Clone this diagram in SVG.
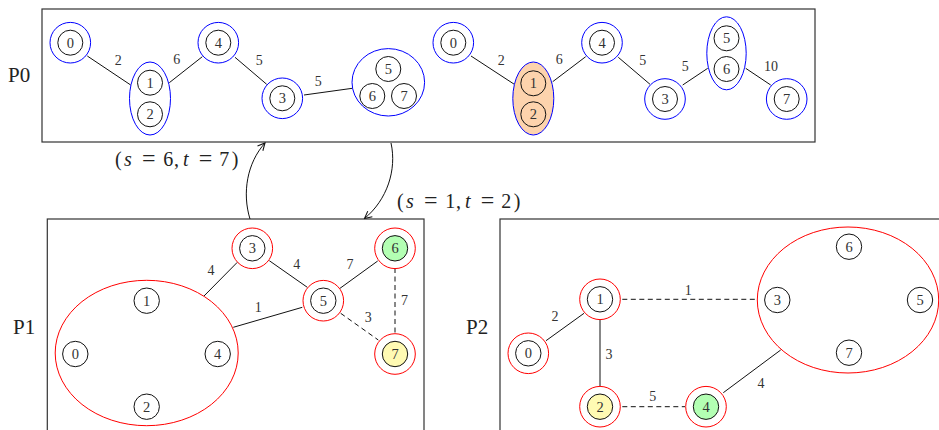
<svg xmlns="http://www.w3.org/2000/svg" width="939" height="430" viewBox="0 0 939 430">
  <style>
    .panel { fill: #ffffff; stroke: #333333; stroke-width: 1.2; }
    .plabel { font-family: "Liberation Serif", serif; font-size: 21px; fill: #222222; }
    .inner { fill: #ffffff; stroke: #111111; stroke-width: 1; }
    .ring-b { fill: none; stroke: #0000ff; stroke-width: 1; }
    .ring-r { fill: none; stroke: #ff0000; stroke-width: 1; }
    .nl { font-family: "Liberation Serif", serif; font-size: 14.5px; fill: #333333; text-anchor: middle; dominant-baseline: central; }
    .el { font-family: "Liberation Serif", serif; font-size: 14px; fill: #333333; text-anchor: middle; dominant-baseline: central; }
    .edge { fill: none; stroke: #111111; stroke-width: 1; }
    .dash { stroke-dasharray: 5 3.5; }
    .math { font-family: "Liberation Serif", serif; font-size: 20px; fill: #222222; text-anchor: middle; }
    .math .v { font-style: italic; }
    .math .op { font-size: 24px; }
    .orange { fill: #fdd3ad; }
    .green { fill: #b3ffb3; }
    .yellow { fill: #fffab3; }
  </style>
  <defs>
    <marker id="arrow" viewBox="0 0 10 10" refX="9" refY="5" markerWidth="9" markerHeight="9" markerUnits="userSpaceOnUse" orient="auto">
      <path d="M1,1 L9,5 L1,9" fill="none" stroke="#111111" stroke-width="1.2"/>
    </marker>
  </defs>

  <!-- panels -->
  <rect class="panel" x="42" y="9" width="773" height="133"/>
  <rect class="panel" x="47.3" y="219" width="376.7" height="240"/>
  <rect class="panel" x="500" y="219" width="460" height="240"/>
  <text class="plabel" x="8" y="82">P0</text>
  <text class="plabel" x="13" y="334">P1</text>
  <text class="plabel" x="466" y="334">P2</text>

  <!-- connectors -->
  <g id="connectors">
    <!-- P0, first partition graph -->
    <line class="edge" x1="87.3" y1="56" x2="130.7" y2="85"/>
    <line class="edge" x1="169.3" y1="82.7" x2="202.3" y2="56.7"/>
    <line class="edge" x1="235" y1="57.3" x2="266.7" y2="84.3"/>
    <line class="edge" x1="304" y1="95" x2="352.3" y2="88.3"/>
    <text class="el" x="118.3" y="60">2</text>
    <text class="el" x="176.7" y="59.3">6</text>
    <text class="el" x="259.3" y="60.7">5</text>
    <text class="el" x="318.3" y="81">5</text>

    <!-- P0, second partition graph -->
    <line class="edge" x1="471" y1="56" x2="514.3" y2="84.3"/>
    <line class="edge" x1="552.7" y1="81.7" x2="585.7" y2="56.7"/>
    <line class="edge" x1="618.3" y1="57.3" x2="650" y2="84.3"/>
    <line class="edge" x1="682.7" y1="85" x2="707.7" y2="68.3"/>
    <line class="edge" x1="745.7" y1="68.3" x2="770.7" y2="85"/>
    <text class="el" x="501.3" y="60">2</text>
    <text class="el" x="559.3" y="59.3">6</text>
    <text class="el" x="642.7" y="60.7">5</text>
    <text class="el" x="685.3" y="66.7">5</text>
    <text class="el" x="771" y="66.7">10</text>

    <!-- transitions between panels -->
    <path class="edge" d="M250,219 C242,193 247,163 265,143" marker-end="url(#arrow)"/>
    <path class="edge" d="M391,143 C397,170 387,200 364.5,218.5" marker-end="url(#arrow)"/>
    <text class="math" y="166"><tspan x="118.3">(</tspan><tspan class="v" x="128">s</tspan><tspan class="op" x="148.8">=</tspan><tspan x="168.3">6</tspan><tspan x="176.5">,</tspan><tspan class="v" x="185.8">t</tspan><tspan class="op" x="205.5">=</tspan><tspan x="224.3">7</tspan><tspan x="235">)</tspan></text>
    <text class="math" y="207.5"><tspan x="400.3">(</tspan><tspan class="v" x="410">s</tspan><tspan class="op" x="430.8">=</tspan><tspan x="450.3">1</tspan><tspan x="458.5">,</tspan><tspan class="v" x="467.8">t</tspan><tspan class="op" x="487.5">=</tspan><tspan x="506.3">2</tspan><tspan x="517">)</tspan></text>

    <!-- P1 -->
    <line class="edge" x1="204" y1="296" x2="237.3" y2="262.3"/>
    <line class="edge" x1="269.3" y1="260.7" x2="307.3" y2="287.3"/>
    <line class="edge" x1="340" y1="288.3" x2="377.7" y2="261"/>
    <line class="edge" x1="233.3" y1="327.3" x2="302.3" y2="307.3"/>
    <line class="edge dash" x1="340.7" y1="313.3" x2="378.3" y2="340"/>
    <line class="edge dash" x1="395" y1="268" x2="395" y2="334"/>
    <text class="el" x="211" y="270">4</text>
    <text class="el" x="296.7" y="264">4</text>
    <text class="el" x="350" y="264">7</text>
    <text class="el" x="258.3" y="307">1</text>
    <text class="el" x="368.3" y="317.3">3</text>
    <text class="el" x="404.5" y="300.7">7</text>

    <!-- P2 -->
    <line class="edge" x1="584" y1="313.3" x2="546" y2="340.7"/>
    <line class="edge" x1="600" y1="320" x2="600" y2="386"/>
    <line class="edge dash" x1="622.3" y1="299.3" x2="757.3" y2="299.3"/>
    <line class="edge dash" x1="622.3" y1="406.7" x2="685" y2="406.7"/>
    <line class="edge" x1="780.7" y1="350" x2="723.3" y2="392.7"/>
    <text class="el" x="555" y="316.7">2</text>
    <text class="el" x="609" y="354">3</text>
    <text class="el" x="688.3" y="290.7">1</text>
    <text class="el" x="652.7" y="396">5</text>
    <text class="el" x="761" y="383.3">4</text>
  </g>

  <!-- P0 nodes, first graph -->
  <g id="p0a-n0"><circle class="ring-b" cx="70.3" cy="42.7" r="20.3"/><circle class="inner" cx="70.3" cy="42.7" r="12.5"/><text class="nl" x="70.3" y="42.7">0</text></g>
  <g id="p0a-c12">
    <ellipse class="ring-b" cx="150" cy="98.5" rx="20.5" ry="36.5"/>
    <g id="p0a-n1"><circle class="inner" cx="150" cy="82.7" r="12.5"/><text class="nl" x="150" y="82.7">1</text></g>
    <g id="p0a-n2"><circle class="inner" cx="150" cy="114.3" r="12.5"/><text class="nl" x="150" y="114.3">2</text></g>
  </g>
  <g id="p0a-n4"><circle class="ring-b" cx="218.3" cy="42.7" r="20.3"/><circle class="inner" cx="218.3" cy="42.7" r="12.5"/><text class="nl" x="218.3" y="42.7">4</text></g>
  <g id="p0a-n3"><circle class="ring-b" cx="282.3" cy="98.3" r="20.3"/><circle class="inner" cx="282.3" cy="98.3" r="12.5"/><text class="nl" x="282.3" y="98.3">3</text></g>
  <g id="p0a-c567">
    <ellipse class="ring-b" cx="388.3" cy="82.3" rx="36.3" ry="33.7"/>
    <g id="p0a-n5"><circle class="inner" cx="388.3" cy="69" r="12.5"/><text class="nl" x="388.3" y="69">5</text></g>
    <g id="p0a-n6"><circle class="inner" cx="372.3" cy="96" r="12.5"/><text class="nl" x="372.3" y="96">6</text></g>
    <g id="p0a-n7"><circle class="inner" cx="404" cy="96" r="12.5"/><text class="nl" x="404" y="96">7</text></g>
  </g>

  <!-- P0 nodes, second graph -->
  <g id="p0b-n0"><circle class="ring-b" cx="453.3" cy="42.7" r="20.3"/><circle class="inner" cx="453.3" cy="42.7" r="12.5"/><text class="nl" x="453.3" y="42.7">0</text></g>
  <g id="p0b-c12">
    <ellipse class="ring-b orange" cx="533.3" cy="98.5" rx="20.5" ry="36.5"/>
    <g id="p0b-n1"><circle class="inner orange" cx="533.3" cy="83.3" r="12.5"/><text class="nl" x="533.3" y="83.3">1</text></g>
    <g id="p0b-n2"><circle class="inner orange" cx="533.3" cy="114.3" r="12.5"/><text class="nl" x="533.3" y="114.3">2</text></g>
  </g>
  <g id="p0b-n4"><circle class="ring-b" cx="602" cy="42.7" r="20.3"/><circle class="inner" cx="602" cy="42.7" r="12.5"/><text class="nl" x="602" y="42.7">4</text></g>
  <g id="p0b-n3"><circle class="ring-b" cx="665" cy="99" r="20.3"/><circle class="inner" cx="665" cy="99" r="12.5"/><text class="nl" x="665" y="99">3</text></g>
  <g id="p0b-c56">
    <ellipse class="ring-b" cx="726.5" cy="53.3" rx="19.7" ry="36.5"/>
    <g id="p0b-n5"><circle class="inner" cx="726.5" cy="38.3" r="12.5"/><text class="nl" x="726.5" y="38.3">5</text></g>
    <g id="p0b-n6"><circle class="inner" cx="726.5" cy="69" r="12.5"/><text class="nl" x="726.5" y="69">6</text></g>
  </g>
  <g id="p0b-n7"><circle class="ring-b" cx="786.7" cy="99" r="20.3"/><circle class="inner" cx="786.7" cy="99" r="12.5"/><text class="nl" x="786.7" y="99">7</text></g>

  <!-- P1 nodes -->
  <g id="p1-c0124">
    <ellipse class="ring-r" cx="146.7" cy="353" rx="91.5" ry="72.7"/>
    <g id="p1-n1"><circle class="inner" cx="146.7" cy="300.7" r="12.7"/><text class="nl" x="146.7" y="300.7">1</text></g>
    <g id="p1-n0"><circle class="inner" cx="75.3" cy="354" r="12.7"/><text class="nl" x="75.3" y="354">0</text></g>
    <g id="p1-n4"><circle class="inner" cx="217.7" cy="354" r="12.7"/><text class="nl" x="217.7" y="354">4</text></g>
    <g id="p1-n2"><circle class="inner" cx="146.7" cy="406.7" r="12.7"/><text class="nl" x="146.7" y="406.7">2</text></g>
  </g>
  <g id="p1-n3"><circle class="ring-r" cx="252.3" cy="248.3" r="20.3"/><circle class="inner" cx="252.3" cy="248.3" r="12.7"/><text class="nl" x="252.3" y="248.3">3</text></g>
  <g id="p1-n5"><circle class="ring-r" cx="323.3" cy="300.7" r="20.3"/><circle class="inner" cx="323.3" cy="300.7" r="12.7"/><text class="nl" x="323.3" y="300.7">5</text></g>
  <g id="p1-n6"><circle class="ring-r" cx="395" cy="248.3" r="20.3"/><circle class="inner green" cx="395" cy="248.3" r="12.7"/><text class="nl" x="395" y="248.3">6</text></g>
  <g id="p1-n7"><circle class="ring-r" cx="395" cy="354" r="20.3"/><circle class="inner yellow" cx="395" cy="354" r="12.7"/><text class="nl" x="395" y="354">7</text></g>

  <!-- P2 nodes -->
  <g id="p2-n1"><circle class="ring-r" cx="600" cy="299.3" r="20.3"/><circle class="inner" cx="600" cy="299.3" r="12.7"/><text class="nl" x="600" y="299.3">1</text></g>
  <g id="p2-n0"><circle class="ring-r" cx="528.3" cy="353.3" r="20.3"/><circle class="inner" cx="528.3" cy="353.3" r="12.7"/><text class="nl" x="528.3" y="353.3">0</text></g>
  <g id="p2-n2"><circle class="ring-r" cx="600" cy="406.7" r="20.3"/><circle class="inner yellow" cx="600" cy="406.7" r="12.7"/><text class="nl" x="600" y="406.7">2</text></g>
  <g id="p2-n4"><circle class="ring-r" cx="706" cy="406.7" r="20.3"/><circle class="inner green" cx="706" cy="406.7" r="12.7"/><text class="nl" x="706" y="406.7">4</text></g>
  <g id="p2-c3567">
    <ellipse class="ring-r" cx="848" cy="300" rx="90.7" ry="73"/>
    <g id="p2-n6"><circle class="inner" cx="849" cy="246.7" r="12.7"/><text class="nl" x="849" y="246.7">6</text></g>
    <g id="p2-n3"><circle class="inner" cx="777.3" cy="300" r="12.7"/><text class="nl" x="777.3" y="300">3</text></g>
    <g id="p2-n5"><circle class="inner" cx="920" cy="300" r="12.7"/><text class="nl" x="920" y="300">5</text></g>
    <g id="p2-n7"><circle class="inner" cx="849" cy="352.7" r="12.7"/><text class="nl" x="849" y="352.7">7</text></g>
  </g>
</svg>
